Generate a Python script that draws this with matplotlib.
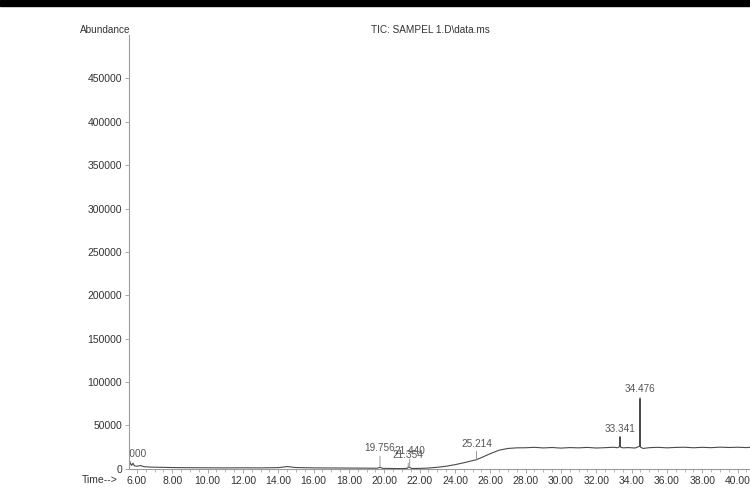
# TIC chromatogram, scanned ChemStation style
import numpy as np
import matplotlib.pyplot as plt
from matplotlib.patches import Rectangle
from matplotlib.ticker import MultipleLocator, FormatStrFormatter

plt.rcParams['font.family'] = ['Liberation Sans', 'DejaVu Sans']

# trace (time in min, abundance)
time = [5.55, 5.62, 5.70, 5.78, 5.85, 6.0, 6.2, 6.4, 6.8, 7.3, 8.0, 9.0, 10.0,
        11.0, 12.0, 13.0, 14.0, 14.5, 15.0, 16.0, 17.0, 18.0, 19.0, 19.6,
        19.756, 19.9, 20.5, 21.0, 21.3, 21.354, 21.44, 21.55, 22.0, 22.5,
        23.0, 23.5, 24.0, 24.5, 25.0, 25.214, 25.5, 26.0, 26.5, 27.0, 27.5,
        28.0, 28.5, 29.0, 29.5, 30.0, 30.5, 31.0, 31.5, 32.0, 32.5, 33.0,
        33.2, 33.31, 33.341, 33.37, 33.5, 33.8, 34.2, 34.45, 34.476, 34.50,
        34.65, 35.0, 35.5, 36.0, 36.5, 37.0, 37.5, 38.0, 38.5, 39.0, 39.5,
        40.0, 40.5, 40.7]
abundance = [2000, 7000, 4000, 6500, 3500, 3000, 3800, 2500, 2000, 1800, 1500,
             1300, 1200, 1100, 1200, 1100, 1400, 2600, 1500, 1100, 1000, 900,
             800, 700, 1800, 600, 400, 300, 600, 1800, 1700, 400, 500, 900,
             1800, 3000, 4800, 7000, 9500, 10500, 13000, 17500, 21500, 23500,
             24200, 24300, 24800, 24100, 24600, 23900, 24500, 24200, 24700,
             24000, 24400, 24900, 24300, 25500, 37000, 25000, 24200, 24500,
             24000, 26000, 81000, 25000, 23500, 24400, 24800, 24200, 24700,
             24900, 24300, 24800, 24400, 25000, 24600, 24900, 24500, 24800]

# labelled peaks and label offsets (points)
peak_times = [5.62, 19.756, 21.440, 21.354, 25.214, 33.341, 34.476]
peak_labels = ['5.000', '19.756', '21.440', '21.354', '25.214', '33.341', '34.476']
label_dx = [3, 0, 0, 0, 0, 0, 0]
label_dy = [3, 10, 8, 5, 8, 2, 3]

fig = plt.figure(figsize=(7.5, 4.93), dpi=100)
ax = fig.add_axes([0.172, 0.049, 0.828, 0.880])

ax.plot(time, abundance, color='#4a4a4a', linewidth=0.8)

heights = np.interp(peak_times, time, abundance)
for t, h, lab, dx, dy in zip(peak_times, heights, peak_labels, label_dx, label_dy):
    ax.annotate(lab, xy=(t, h), xytext=(dx, dy), textcoords='offset points',
                ha='center', va='bottom', fontsize=7.2, color='#555555',
                annotation_clip=False, clip_on=True,
                arrowprops=dict(arrowstyle='-', color='#888888', lw=0.6,
                                shrinkA=0, shrinkB=0))

ax.set_xlim(5.55, 40.7)
ax.set_ylim(0, 500000)

for s in ['top', 'right']:
    ax.spines[s].set_visible(False)
for s in ['left', 'bottom']:
    ax.spines[s].set_color('#9a9a9a')
    ax.spines[s].set_linewidth(0.8)

ax.set_xticks(np.arange(6, 41, 2))
ax.xaxis.set_major_formatter(FormatStrFormatter('%.2f'))
ax.xaxis.set_minor_locator(MultipleLocator(0.5))
ax.set_yticks(np.arange(0, 450001, 50000))
ax.yaxis.set_major_formatter(FormatStrFormatter('%d'))

ax.tick_params(axis='both', which='major', labelsize=7.5, colors='#9a9a9a',
               labelcolor='#333333', length=3, width=0.6, pad=2)
ax.tick_params(axis='x', which='minor', colors='#9a9a9a', length=2, width=0.5)

fig.text(105 / 750, 1 - 30 / 493, 'Abundance', fontsize=7.2, color='#333333',
         ha='center', va='center')
fig.text(430 / 750, 1 - 30 / 493, 'TIC: SAMPEL 1.D\\data.ms', fontsize=7.2,
         color='#333333', ha='center', va='center')
fig.text(100 / 750, 1 - 480 / 493, 'Time-->', fontsize=7.5, color='#333333',
         ha='center', va='center')

# black scan edge at the top
fig.patches.append(Rectangle((0, 1 - 6 / 493), 1, 6 / 493,
                             transform=fig.transFigure, color='black'))

plt.savefig('out.png', dpi=100)
